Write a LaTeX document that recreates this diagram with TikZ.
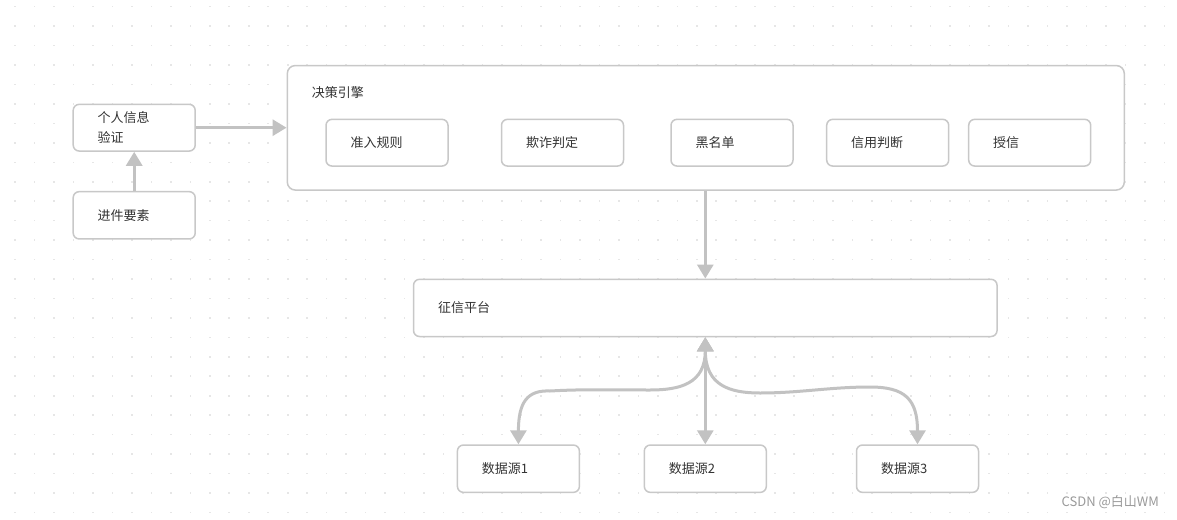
\documentclass[tikz,border=0pt]{standalone}
\usepackage{fontspec}
\newfontfamily\cjk{Noto Sans CJK SC}
\usetikzlibrary{arrows.meta}
\definecolor{boxc}{HTML}{C8C8C8}
\definecolor{arrc}{HTML}{C2C2C2}
\definecolor{dotc}{HTML}{E6E6E6}
\definecolor{txtc}{HTML}{333333}
\definecolor{wmc}{HTML}{9A9A9A}
\tikzset{
  box/.style={draw=boxc, line width=1.5pt, fill=white, rounded corners=6pt,
    minimum width=122pt, minimum height=47pt, inner xsep=24.5pt, inner ysep=0pt,
    text width=73pt, align=left, font=\cjk\fontsize{13pt}{20pt}\selectfont, text=txtc},
  plainbox/.style={draw=boxc, line width=1.5pt, fill=white, rounded corners=8pt, inner sep=0pt},
  lbl/.style={font=\cjk\fontsize{13pt}{20pt}\selectfont, text=txtc, anchor=west, inner sep=0pt},
  arr/.style={draw=arrc, line width=3pt, -{Triangle[length=14pt,width=16pt]}},
  darr/.style={draw=arrc, line width=3pt, {Triangle[length=14pt,width=16pt]}-{Triangle[length=14pt,width=16pt]}},
}
\begin{document}
\begin{tikzpicture}[x=1pt, y=-1pt]
\useasboundingbox (0,0) rectangle (1177,519);
\fill[white] (0,0) rectangle (1177,519);
% dotted grid
\foreach \i in {0,...,59}{
  \foreach \j in {0,...,26}{
    \fill[dotc] ({15+\i*19.48-0.8},{6.7+\j*19.45-0.8}) rectangle ++(1.6,1.6);
  }
}
% left boxes
\node[box, minimum height=46.7pt] (info) at (134.2,127.7) {个人信息\\验证};
\node[box, minimum height=47.3pt] (jinjian) at (134.2,215.3) {进件要素};
% decision engine
\node[plainbox, minimum width=837pt, minimum height=124.5pt] (engine) at (705.8,127.8) {};
\node[lbl] (enginelbl) at (311.7,92.7) {决策引擎};
\node[box, minimum height=46.7pt] (zr) at (387,142.7) {准入规则};
\node[box, minimum height=46.7pt] (qz) at (562.5,142.7) {欺诈判定};
\node[box, minimum height=46.7pt] (hmd) at (732,142.7) {黑名单};
\node[box, minimum height=46.7pt] (xy) at (887.7,142.7) {信用判断};
\node[box, minimum height=46.7pt] (sx) at (1029.7,142.7) {授信};
% credit platform
\node[box, minimum width=583.5pt, text width=534.5pt, minimum height=57.2pt] (zx) at (705.3,307.9) {征信平台};
% data sources
\node[box, minimum height=47.3pt] (ds1) at (518.4,468.7) {数据源1};
\node[box, minimum height=47.3pt] (ds2) at (705.3,468.7) {数据源2};
\node[box, minimum height=47.3pt] (ds3) at (917.5,468.7) {数据源3};
% connectors
\draw[arr] (jinjian.north) -- (info.south);
\draw[arr] (info.east) -- (engine.west |- info.east);
\draw[arr] (engine.south -| zx.north) -- (zx.north);
\coordinate (m1) at (650,390);
\coordinate (m2) at (550,391);
\coordinate (m3) at (760,393);
\coordinate (m4) at (870,387);
\draw[darr] (zx.south) -- (ds2.north);
\draw[darr] (zx.south) .. controls +(0,46.5) and +(30,0) .. (m1)
   .. controls +(-35,0) and +(35,-2) .. (m2)
   .. controls +(-22,-1) and +(0,-43) .. (ds1.north);
\draw[darr] (zx.south) .. controls +(0,48.5) and +(-30,0) .. (m3)
   .. controls +(40,0) and +(-40,0) .. (m4)
   .. controls +(35,0) and +(0,-45) .. (ds3.north);
% watermark
\node[font=\cjk\fontsize{13pt}{15pt}\selectfont, text=wmc, anchor=west, inner sep=0pt] (wm) at (1061.5,501.7) {CSDN @白山WM};
\end{tikzpicture}
\end{document}
